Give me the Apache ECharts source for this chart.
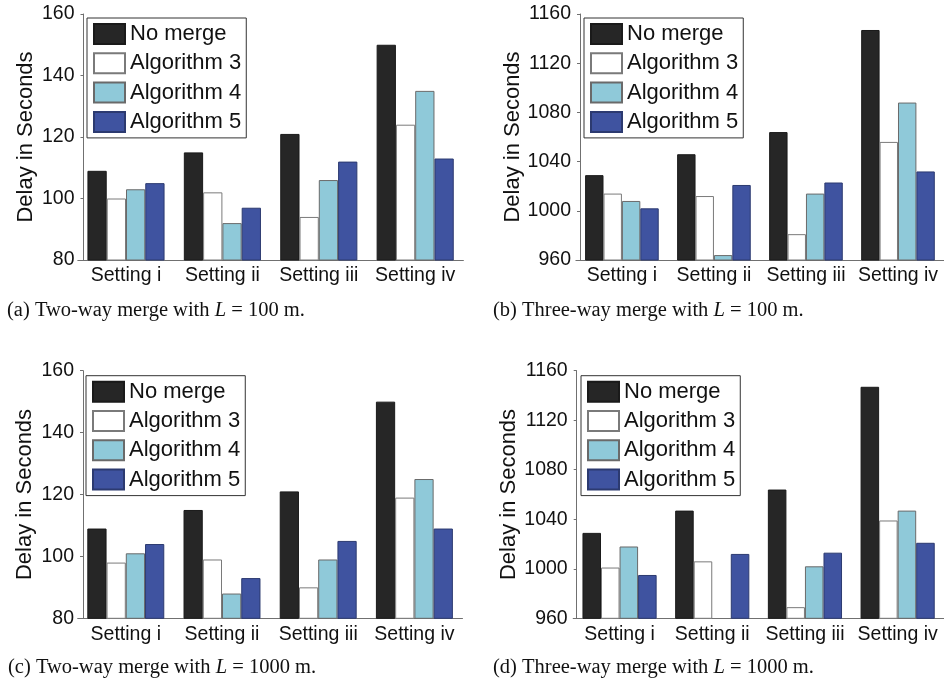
<!DOCTYPE html>
<html>
<head>
<meta charset="utf-8">
<script src="https://cdn.jsdelivr.net/npm/echarts@6/dist/echarts.min.js"></script>
<style>
html,body{margin:0;padding:0;background:#fff;}
#chart{width:944px;height:680px;}
</style>
</head>
<body>
<div id="chart"></div>
<script>
// ---- data ----
var categories = ['Setting i', 'Setting ii', 'Setting iii', 'Setting iv'];
var seriesNames = ['No merge', 'Algorithm 3', 'Algorithm 4', 'Algorithm 5'];

// (a) Two-way merge, L = 100 m
var noMergeA = [109, 115, 121, 150];
var alg3A = [100, 102, 94, 124];
var alg4A = [103, 92, 106, 135];
var alg5A = [105, 97, 112, 113];

// (b) Three-way merge, L = 100 m
var noMergeB = [1029, 1046, 1064, 1147];
var alg3B = [1014, 1012, 981, 1056];
var alg4B = [1008, 964, 1014, 1088];
var alg5B = [1002, 1021, 1023, 1032];

// (c) Two-way merge, L = 1000 m
var noMergeC = [109, 115, 121, 150];
var alg3C = [98, 99, 90, 119];
var alg4C = [101, 88, 99, 125];
var alg5C = [104, 93, 105, 109];

// (d) Three-way merge, L = 1000 m
var noMergeD = [1029, 1047, 1064, 1147];
var alg3D = [1001, 1006, 969, 1039];
var alg4D = [1018, 960, 1002, 1047];
var alg5D = [995, 1012, 1013, 1021];

// y-axis ranges [min, max, interval]
var yRangeTwoWay = [80, 160, 20];
var yRangeThreeWay = [960, 1160, 40];

var yAxisName = 'Delay in Seconds';
var captions = [
  ['(a) Two-way merge with ', 'L', ' = 100 m.'],
  ['(b) Three-way merge with ', 'L', ' = 100 m.'],
  ['(c) Two-way merge with ', 'L', ' = 1000 m.'],
  ['(d) Three-way merge with ', 'L', ' = 1000 m.']
];

// ---- layout / style ----
var panels = [
  {data: [noMergeA, alg3A, alg4A, alg5A], range: yRangeTwoWay,
   grid: {left: 77.8, top: 14, width: 385.6, height: 246}, yOffset: -5.7, nameGap: 47,
   legend: {left: 87, top: 18}, title: {left: 7, top: 300}},
  {data: [noMergeB, alg3B, alg4B, alg5B], range: yRangeThreeWay,
   grid: {left: 575.9, top: 14, width: 372.8, height: 246}, yOffset: -4.1, nameGap: 56,
   legend: {left: 584, top: 18}, title: {left: 493, top: 300}},
  {data: [noMergeC, alg3C, alg4C, alg5C], range: yRangeTwoWay,
   grid: {left: 77.7, top: 370.7, width: 384.8, height: 247.6}, yOffset: -5.3, nameGap: 47,
   legend: {left: 86, top: 375.7}, title: {left: 8, top: 657}},
  {data: [noMergeD, alg3D, alg4D, alg5D], range: yRangeThreeWay,
   grid: {left: 573.2, top: 370.7, width: 372.8, height: 247.6}, yOffset: -3.5, nameGap: 56,
   legend: {left: 581, top: 375.7}, title: {left: 493, top: 657}}
];

var fills = ['#262626', '#ffffff', '#8fc9d9', '#3f53a0'];
var borders = ['#1a1a1a', '#7a7a7a', '#6a6a6a', '#2c3a70'];
var axisColor = '#707070';
var sans = 'Liberation Sans, Arial, Helvetica, sans-serif';
var serif = 'Liberation Serif, Times New Roman, serif';

var option = {
  backgroundColor: '#ffffff',
  animation: false,
  grid: [], xAxis: [], yAxis: [], series: [], legend: [], title: []
};

panels.forEach(function (p, k) {
  option.grid.push(Object.assign({containLabel: false}, p.grid));
  option.xAxis.push({
    type: 'category', gridIndex: k, data: categories,
    axisLine: {show: true, lineStyle: {color: axisColor, width: 1}},
    axisTick: {show: false},
    axisLabel: {color: '#111', fontFamily: sans, fontSize: 19.5, margin: 6, interval: 0,
      hideOverlap: false}
  });
  option.yAxis.push({
    type: 'value', gridIndex: k, min: p.range[0], max: p.range[1], interval: p.range[2],
    offset: p.yOffset,
    name: yAxisName, nameLocation: 'middle', nameGap: p.nameGap,
    nameTextStyle: {color: '#111', fontFamily: sans, fontSize: 22},
    axisLine: {show: true, lineStyle: {color: axisColor, width: 1}},
    axisTick: {show: true, inside: false, length: 3, lineStyle: {color: axisColor}},
    axisLabel: {color: '#111', fontFamily: sans, fontSize: 19.5, margin: 9,
      formatter: function (v) { return String(v); }},
    splitLine: {show: false}
  });
  seriesNames.forEach(function (name, s) {
    option.series.push({
      type: 'bar', name: name, xAxisIndex: k, yAxisIndex: k,
      data: p.data[s], barWidth: '20%', barGap: '0%', clip: true,
      itemStyle: {color: fills[s], borderColor: borders[s], borderWidth: 1}
    });
  });
  option.legend.push({
    orient: 'vertical', left: p.legend.left, top: p.legend.top,
    data: seriesNames, icon: 'rect', itemWidth: 31, itemHeight: 20, itemGap: 7.3,
    padding: [5, 5, 5, 6], borderColor: '#333', borderWidth: 1, backgroundColor: '#fff',
    selectedMode: false,
    textStyle: {color: '#111', fontFamily: sans, fontSize: 22, lineHeight: 20}
  });
  var c = captions[k];
  option.title.push({
    left: p.title.left, top: p.title.top, padding: 0,
    text: c[0] + '{i|' + c[1] + '}' + c[2],
    textStyle: {fontFamily: serif, fontSize: 20.5, fontWeight: 'normal', color: '#111',
      rich: {i: {fontFamily: serif, fontSize: 20.5, fontStyle: 'italic', color: '#111'}}}
  });
});

var chart = echarts.init(document.getElementById('chart'), null, {renderer: 'canvas'});
chart.setOption(option);
</script>
</body>
</html>
